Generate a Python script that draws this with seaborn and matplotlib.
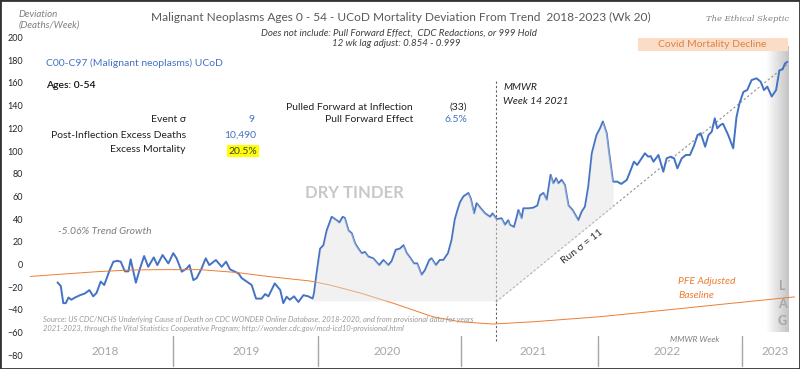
import numpy as np
import pandas as pd
import seaborn as sns
import matplotlib.pyplot as plt
from matplotlib.colors import LinearSegmentedColormap
from matplotlib.patches import Rectangle

# weekly deviation (deaths/week), week index counted from start of 2018
weeks = [10, 11.2, 12.1, 13, 14, 15, 16.4, 18.2, 20, 21.6, 23, 24.2, 25.7, 27, 28.8, 30.3,
         31.8, 33, 34.5, 35.8, 36.6, 38.5, 39.8, 41.5, 43, 45, 46.3, 48.2, 50.3, 52.1, 53.3,
         55.2, 57, 58, 59.4, 60.6, 62.4, 63.9, 65.2, 67.6, 69.7, 71.3, 72.7, 74.5, 75.8, 77,
         78.8, 80.6, 82.2, 84.2, 85.5, 86.7, 89, 91, 92.1, 93.3, 94.5, 96, 97.6, 99.4, 101.2,
         102.8, 103.3, 104.2, 105.5, 106.7, 107.9, 109.7, 111.5, 112.5, 113.7, 114.5, 115.8,
         117, 118.2, 119.4, 120.6, 121.8, 123, 124.8, 127, 128.5, 130.3, 131.5, 133, 134.5,
         135.8, 137, 138.4, 139.6, 140.8, 142.4, 143.6, 145.2, 146, 147.6, 149, 150.3, 152,
         153.3, 154.5, 155.7, 156.4, 157.6, 159.4, 160.3, 161.5, 162.4, 163.9, 165.5, 167.3,
         168.2, 169.7, 171.5, 172.7, 173.9, 174.5, 176, 177, 177.6, 178.8, 179.4, 181.2, 183,
         184.5, 185.5, 186.7, 187.9, 189.3, 190.3, 191.3, 192.1, 193.3, 194.5, 195.8, 197.3,
         199.4, 200.6, 201.8, 203, 204.3, 206, 207.3, 208.3, 209.7, 210.5, 212, 213.5, 215,
         217, 218.4, 219.6, 220.8, 222.4, 223.6, 224.8, 225.7, 226.7, 228.5, 230.3, 231.5, 233,
         234.2, 235.4, 237, 238.5, 240, 241.5, 242.7, 243.9, 245.5, 246.7, 247.9, 249, 249.9,
         251.1, 252, 253.9, 255.7, 256.9, 258, 259.4, 260.8, 262.4, 264.2, 265.7, 266.9, 268.1,
         269.7, 271.3, 272.5, 273.7, 274.5, 275.4]
deviation = [-15.7, -19, -34, -34, -29, -31, -29, -27, -25.4, -22.5, -28, -25, -15, -18, -6, 2.5,
             3.3, 2.5, -6, -6, 4.6, -16, -5, 7.5, -2, 6.3, -0.5, 8.4, 1, 10, 5.5,
             -6.3, -3.4, -0.5, -13.7, -12, -3.4, 5.5, -0.5, 4, -2, 2.5, -4.2, -6.3, -7.8, -12,
             -15, -18, -30, -30, -26, -28, -16.6, -22.5, -34, -28.4, -31, -28, -33, -27, -28,
             -30, -25, -8, 14, 17, 30, 42, 39, 37, 42, 41, 30,
             27.5, 18.7, 14, 10, 11, 7, 5.5, -0.5, 4, -0.5, 3, 13, 14,
             17, 10, 5.5, 1, 1, -9, -5, 4, 5.5, -0.5, 4, 4, 10,
             21.6, 40, 50, 55, 60, 63, 58, 45, 54, 49.5, 45, 42,
             45, 40, 40.7, 35, 39, 35, 33, 42, 48, 40.7, 49.5, 49.5, 50,
             52, 61, 63, 57, 79, 71.5, 76, 71.5, 74.5, 70, 52, 48,
             39, 46.5, 51, 68.5, 98, 114, 120, 126, 115.6, 100, 73, 73, 71,
             74.5, 83, 90.6, 87.7, 93.6, 98, 95, 95.5, 90.6, 96.5, 81.8, 93.6, 95,
             93.6, 84.7, 93.6, 96.5, 96.5, 105, 114, 115.6, 103.8, 114, 117, 128.8, 120,
             123, 124, 114, 102.4, 130, 142, 152, 153.7, 162.5, 164, 161, 153.7, 156.7,
             148, 153.7, 171, 172, 177, 178.6]

# PFE adjusted baseline (orange curve)
base_weeks = [0, 12, 24.3, 36.4, 47.3, 61.8, 75.2, 87.3, 101.8, 109, 120, 132, 146.5,
              156.4, 168.4, 183, 207, 231.6, 255.6, 278]
base_values = [-10.5, -8.4, -6.3, -4.8, -4.5, -4.5, -7, -10.7, -14.5, -18, -25, -34, -46,
               -50.4, -52.4, -50.4, -46, -40, -34, -28.5]

year_labels = ["2018", "2019", "2020", "2021", "2022", "2023"]
year_breaks = [52, 104.7, 156.7, 206.5, 258.9]
year_centers = [27.5, 78.5, 130, 183, 231.5, 271]

inflection_week = 169.4
run_start, run_end = (169.4, -33), (275.7, 177)
tinder_floor = -32
tinder_span = (102.8, 212)

blue, orange = "#4472c4", "#ed7d31"
grey_txt = "#7f7f7f"

sns.set_theme(style="white")
plt.rcParams["font.family"] = ["Lato", "DejaVu Sans"]

fig = plt.figure(figsize=(8, 3.69), dpi=100)
ax = fig.add_axes([30 / 800, 0, 767 / 800, 1])
ax.set_xlim(0, 278.9)
ax.set_ylim(-92, 233)

df = pd.DataFrame({"week": weeks, "dev": deviation})
bdf = pd.DataFrame({"week": base_weeks, "base": base_values})

sns.lineplot(data=df, x="week", y="dev", color=blue, lw=1.4, ax=ax, zorder=3)
sns.lineplot(data=bdf, x="week", y="base", color=orange, lw=0.7, ax=ax, zorder=3)

# dry tinder shading (drawn over the line so it looks faded)
w = np.array(weeks)
d = np.array(deviation)
slope = (run_end[1] - run_start[1]) / (run_end[0] - run_start[0])
floor = np.where(w < inflection_week, tinder_floor, run_start[1] + slope * (w - run_start[0]))
mask = (w >= tinder_span[0]) & (w <= tinder_span[1])
ax.fill_between(w[mask], floor[mask], d[mask], color="#e0e0e0", alpha=0.45, lw=0, zorder=4)

# run sigma trend line + inflection marker
ax.plot([run_start[0], run_end[0]], [run_start[1], run_end[1]], ls=(0, (2, 2)), color="#909090", lw=0.8, zorder=2)
ax.plot([inflection_week, inflection_week], [162, -68], ls=(0, (2, 2)), color="#606060", lw=0.8, zorder=2)

# LAG gradient
cmap = LinearSegmentedColormap.from_list("lag", ["#ffffff", "#c4c4c4"])
ax.imshow(np.linspace(0, 1, 60).reshape(1, -1), cmap=cmap, aspect="auto",
          extent=[267.5, 275.8, -59.5, 191.6], zorder=1)
for i, ch in enumerate("LAG"):
    ax.text(273.5, -19 - i * 15.5, ch, color="#a6a6a6", fontsize=9, fontweight="bold", ha="center", va="center")

# covid mortality decline box
ax.add_patch(Rectangle((221, 188.4), 54.5, 11.2, color="#fbdcc6", lw=0, zorder=1))
ax.text(248, 194, "Covid Mortality Decline", color="#d9834a", fontsize=7.5, ha="center", va="center")

# year band
for b in year_breaks:
    ax.plot([b, b], [-63, -89], color="#a6a6a6", lw=1)
for c, lab in zip(year_centers, year_labels):
    ax.text(c, -77, lab, color="#a6a6a6", fontsize=8.5, ha="center", va="center")

ax.set_yticks(np.arange(-80, 201, 20))
ax.set_xticks([])
ax.tick_params(axis="y", length=0, labelsize=6.5, pad=5)
ax.set_xlabel("")
ax.set_ylabel("")
for s in ax.spines.values():
    s.set_visible(False)


def px(x, y):
    return x / 800, 1 - y / 369


fig.text(*px(401, 17), "Malignant Neoplasms Ages 0 - 54 - UCoD Mortality Deviation From Trend  2018-2023 (Wk 20)",
         ha="center", va="center", fontsize=8.6, color="#595959")
fig.text(*px(399, 33), "Does not include: Pull Forward Effect,  CDC Redactions, or 999 Hold",
         ha="center", va="center", fontsize=7, style="italic", color="#404040")
fig.text(*px(396, 44), "12 wk lag adjust: 0.854 - 0.999",
         ha="center", va="center", fontsize=7, style="italic", color="#404040")
fig.text(*px(748, 19), "The Ethical Skeptic", ha="center", va="center", fontsize=6,
         style="italic", color="#7f7f7f", family="DejaVu Serif")
fig.text(*px(19, 20), "Deviation\n(Deaths/Week)", ha="left", va="center", fontsize=7,
         style="italic", color=grey_txt, linespacing=1.3)

fig.text(*px(46, 63), "C00-C97 (Malignant neoplasms) UCoD", ha="left", va="center", fontsize=7.5, color=blue)
fig.text(*px(46, 86), "Ages: 0-54", ha="left", va="center", fontsize=7.5, color="#111111", fontweight="semibold")

fig.text(*px(186, 119), "Event σ", ha="right", va="center", fontsize=7.5, color="#222222")
fig.text(*px(255, 119), "9", ha="right", va="center", fontsize=7.5, color=blue)
fig.text(*px(186, 135), "Post-Inflection Excess Deaths", ha="right", va="center", fontsize=7.5, color="#222222")
fig.text(*px(256, 135), "10,490", ha="right", va="center", fontsize=7.5, color=blue)
fig.text(*px(186, 150), "Excess Mortality", ha="right", va="center", fontsize=7.5, color="#222222")
fig.text(*px(257, 151), "20.5%", ha="right", va="center", fontsize=7.5, color="#404040",
         bbox=dict(boxstyle="square,pad=0.15", fc="#ffff00", ec="none"))

fig.text(*px(413, 107), "Pulled Forward at Inflection", ha="right", va="center", fontsize=7.5, color="#222222")
fig.text(*px(467, 107), "(33)", ha="right", va="center", fontsize=7.5, color="#222222")
fig.text(*px(413, 120), "Pull Forward Effect", ha="right", va="center", fontsize=7.5, color="#222222")
fig.text(*px(467, 120), "6.5%", ha="right", va="center", fontsize=7.5, color=blue)

fig.text(*px(503, 88), "MMWR", ha="left", va="center", fontsize=7.5, style="italic", color="#222222")
fig.text(*px(503, 101), "Week 14 2021", ha="left", va="center", fontsize=7.5, style="italic", color="#222222")

fig.text(*px(354, 193), "DRY TINDER", ha="center", va="center", fontsize=12, fontweight="bold", color="#c8c8c8")
fig.text(*px(58, 231), "-5.06% Trend Growth", ha="left", va="center", fontsize=7.5, style="italic", color=grey_txt)
fig.text(*px(582, 247), "Run σ = 11", ha="center", va="center", fontsize=7.5, color="#333333", rotation=38)
fig.text(*px(678, 282), "PFE Adjusted", ha="left", va="center", fontsize=7.5, style="italic", color=orange)
fig.text(*px(678, 296), "Baseline", ha="left", va="center", fontsize=7.5, style="italic", color=orange)

fig.text(*px(43, 319), "Source: US CDC/NCHS Underlying Cause of Death on CDC WONDER Online Database, 2018-2020, and from provisional data for years",
         ha="left", va="center", fontsize=5.5, style="italic", color="#9a9a9a")
fig.text(*px(43, 328), "2021-2023, through the Vital Statistics Cooperative Program; http://wonder.cdc.gov/mcd-icd10-provisional.html",
         ha="left", va="center", fontsize=5.5, style="italic", color="#9a9a9a")
fig.text(*px(695, 340), "MMWR Week", ha="center", va="center", fontsize=6, style="italic", color=grey_txt)

fig.patches.append(Rectangle((0, 0), 1, 1, transform=fig.transFigure, fill=False, ec="#333333", lw=2))

fig.savefig("out.png", dpi=100)
